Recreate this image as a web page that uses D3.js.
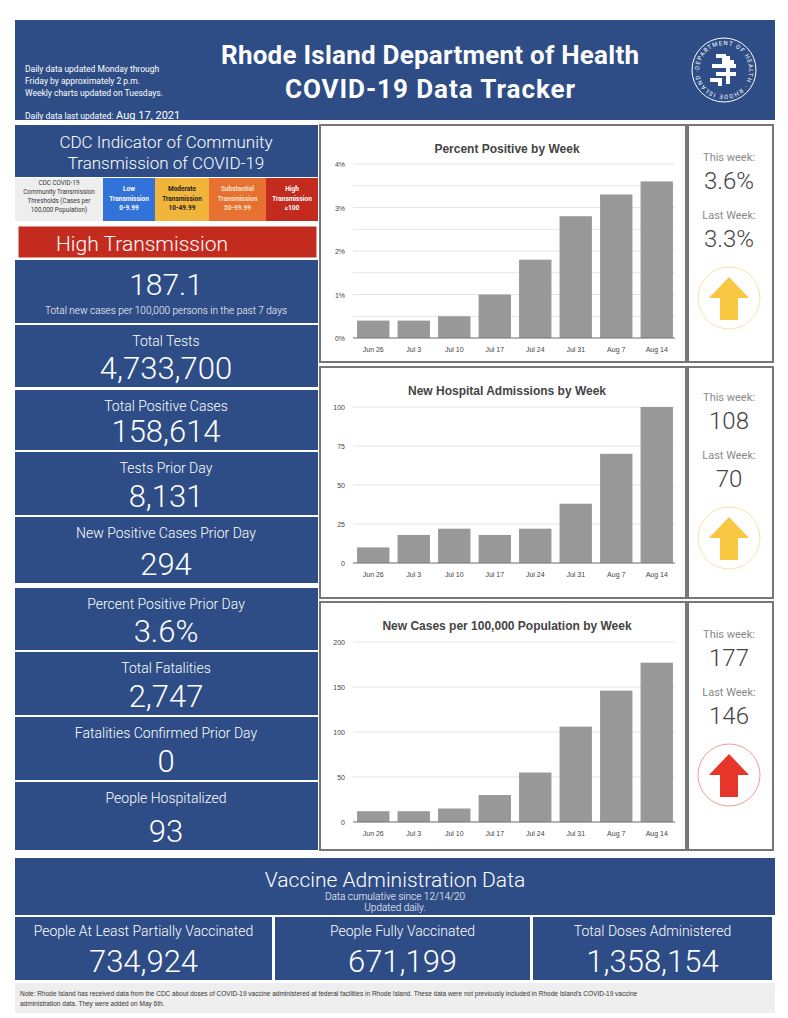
<!DOCTYPE html>
<html><head><meta charset="utf-8">
<script src="https://cdn.jsdelivr.net/npm/d3@7"></script>
<style>body{margin:0;background:#fff;font-family:Roboto,"Noto Sans",sans-serif}</style>
</head><body>
<script>
// Weekly chart data
const weeks = ["Jun 26","Jul 3","Jul 10","Jul 17","Jul 24","Jul 31","Aug 7","Aug 14"];
const pctPositive = [0.4,0.4,0.5,1.0,1.8,2.8,3.3,3.6];
const admissions = [10,18,22,18,22,38,70,108];
const casesPer100k = [12,12,15,30,55,106,146,177];

// Left column stat boxes
const statLabels = ["Total Tests","Total Positive Cases","Tests Prior Day","New Positive Cases Prior Day","Percent Positive Prior Day","Total Fatalities","Fatalities Confirmed Prior Day","People Hospitalized"];
const statValues = ["4,733,700","158,614","8,131","294","3.6%","2,747","0","93"];
const statTops = [325,390,452,517,588,652,717,782];
const statBottoms = [387,450,515,583,650,715,780,850];

const vaxLabels = ["People At Least Partially Vaccinated","People Fully Vaccinated","Total Doses Administered"];
const vaxValues = ["734,924","671,199","1,358,154"];

const blue = "#2e4d86", red = "#c42b1f";
const W = 788, H = 1018;
const svg = d3.select("body").append("svg").attr("width", W).attr("height", H);

function rect(x, y, w, h, fill, stroke) {
  return svg.append("rect").attr("x", x).attr("y", y).attr("width", w).attr("height", h)
    .attr("fill", fill).attr("stroke", stroke || "none");
}
function text(x, y, s, size, fill, anchor, weight, family) {
  return svg.append("text").attr("x", x).attr("y", y).text(s).attr("font-size", size)
    .attr("fill", fill).attr("text-anchor", anchor || "middle").attr("font-weight", weight || 300)
    .attr("font-family", family || "Roboto, sans-serif");
}

// Header
rect(15, 20, 760, 100, blue);
text(25, 72, "Daily data updated Monday through", 8.5, "#fff", "start", "normal");
text(25, 84, "Friday by approximately 2 p.m.", 8.5, "#fff", "start", "normal");
text(25, 96, "Weekly charts updated on Tuesdays.", 8.5, "#fff", "start", "normal");
text(25, 119, "Daily data last updated:", 8.5, "#fff", "start", "normal").append("tspan").attr("font-size", 11).text(" Aug 17, 2021");
text(430, 64, "Rhode Island Department of Health", 26, "#fff", "middle", "bold").attr("textLength", 418);
text(430, 98, "COVID-19 Data Tracker", 26, "#fff", "middle", "bold").attr("textLength", 290);
// logo seal
const seal = svg.append("g").attr("transform", "translate(724,70)");
seal.append("circle").attr("r", 32).attr("fill", "none").attr("stroke", "#fff").attr("stroke-width", 1);
seal.append("path").attr("d", "M-8,-14 h8 v6 h10 M-12,-4 h24 M-8,4 h20 M-14,10 h10 v6 M4,-14 v28")
  .attr("stroke", "#fff").attr("stroke-width", 4).attr("fill", "none");
seal.append("path").attr("id", "sealarc").attr("d", "M-25,0 A25,25 0 1,1 25,0 A25,25 0 1,1 -25,0").attr("fill", "none");
seal.append("text").attr("font-size", 6).attr("fill", "#fff").attr("letter-spacing", 1)
  .append("textPath").attr("href", "#sealarc").text("DEPARTMENT OF HEALTH · RHODE ISLAND ·");

// CDC indicator
rect(15, 125, 303, 52, blue);
text(166, 148, "CDC Indicator of Community", 17, "#fff");
text(166, 169, "Transmission of COVID-19", 17, "#fff");
const thrX = [15, 103, 155, 209, 266, 318];
const thrFill = ["#eeeeee", "#3372d8", "#f2b53c", "#e67131", "#c42b1f"];
const thrText = [["CDC COVID-19","Community Transmission","Thresholds (Cases per","100,000 Population)"],
  ["Low","Transmission","0-9.99"],["Moderate","Transmission","10-49.99"],["Substantial","Transmission","50-99.99"],["High","Transmission","≥100"]];
thrFill.forEach((f, i) => {
  rect(thrX[i], 178, thrX[i + 1] - thrX[i], 43, f);
  const lines = thrText[i];
  const col = i === 0 ? "#333" : i === 2 ? "#222" : i === 3 ? "#fde2c9" : "#fff";
  lines.forEach((l, j) => text((thrX[i] + thrX[i + 1]) / 2, (i === 0 ? 185 : 191) + j * (i === 0 ? 9 : 9.5), l, i === 0 ? 6.3 : 6.5, col, "middle", i === 0 ? "normal" : "bold"));
});
rect(18, 226, 299, 32, red, "#fff");
text(142, 251, "High Transmission", 21, "#fff");
rect(15, 260, 303, 63, blue);
text(166, 295, "187.1", 30, "#fff");
text(166, 314, "Total new cases per 100,000 persons in the past 7 days", 10, "#fff");

// Stat boxes
statLabels.forEach((l, i) => {
  const y0 = statTops[i], y1 = statBottoms[i];
  rect(15, y0, 303, y1 - y0, blue);
  text(166, y0 + 21, l, 14, "#fff");
  text(166, y1 - 8, statValues[i], 31, "#fff");
});

// Weekly bar charts
function barChart(cfg) {
  rect(320, cfg.top, 366, cfg.bottom - cfg.top, "#fff", "#777").attr("stroke-width", 2);
  rect(688, cfg.top, 85, cfg.bottom - cfg.top, "#fff", "#777").attr("stroke-width", 2);
  text(507, cfg.top + 28, cfg.title, 12, "#444", "middle", "bold", "Arial, Liberation Sans, sans-serif");
  const x = d3.scaleBand().domain(weeks).range([353, 677]).paddingInner(0.2).paddingOuter(0.1);
  const y = d3.scaleLinear().domain([0, cfg.max]).range([cfg.y0, cfg.y1]).clamp(true);
  const g = svg.append("g");
  g.selectAll("line.grid").data(d3.range(0, cfg.max + 1e-9, cfg.minor)).join("line")
    .attr("x1", 353).attr("x2", 675).attr("y1", d => y(d)).attr("y2", d => y(d))
    .attr("stroke", "#e4e4e4");
  g.selectAll("rect").data(cfg.values).join("rect")
    .attr("x", (d, i) => x(weeks[i])).attr("width", x.bandwidth())
    .attr("y", d => y(d)).attr("height", d => cfg.y0 - y(d)).attr("fill", "#999");
  g.append("line").attr("x1", 353).attr("x2", 675).attr("y1", cfg.y0).attr("y2", cfg.y0).attr("stroke", "#777");
  g.selectAll("text.yt").data(d3.range(0, cfg.max + 1e-9, cfg.major)).join("text")
    .attr("x", 345).attr("y", d => y(d) + 3).attr("text-anchor", "end").attr("font-size", 7)
    .attr("fill", "#444").attr("font-family", "Arial, sans-serif").text(cfg.fmt);
  g.selectAll("text.xt").data(weeks).join("text")
    .attr("x", d => x(d) + x.bandwidth() / 2).attr("y", cfg.y0 + 14).attr("text-anchor", "middle")
    .attr("font-size", 7).attr("fill", "#444").attr("font-family", "Arial, sans-serif").text(d => d);
  const n = cfg.values.length;
  text(729, cfg.top + cfg.labY, "This week:", 11, "#888", "middle", "normal");
  text(729, cfg.top + cfg.labY + 28, cfg.valFmt(cfg.values[n - 1]), 24, "#444");
  text(729, cfg.top + cfg.labY + 58, "Last Week:", 11, "#888", "middle", "normal");
  text(729, cfg.top + cfg.labY + 86, cfg.valFmt(cfg.values[n - 2]), 24, "#444");
  const cy = cfg.top + cfg.arrowY;
  svg.append("circle").attr("cx", 729).attr("cy", cy).attr("r", 31).attr("fill", "#fff").attr("stroke", cfg.arrow).attr("stroke-opacity", 0.5);
  svg.append("path").attr("transform", `translate(729,${cy})`)
    .attr("d", "M0,-21 L-20,0 L-9,0 L-9,22 L9,22 L9,0 L20,0 Z").attr("fill", cfg.arrow);
}
barChart({ top: 125, bottom: 362, title: "Percent Positive by Week", values: pctPositive, max: 4, major: 1, minor: 0.5,
  y0: 338, y1: 164, fmt: d => d + "%", valFmt: d => d.toFixed(1) + "%", labY: 36, arrowY: 173, arrow: "#f8c843" });
barChart({ top: 367, bottom: 598, title: "New Hospital Admissions by Week", values: admissions, max: 100, major: 25, minor: 25,
  y0: 563, y1: 407, fmt: d => d, valFmt: d => d, labY: 34, arrowY: 171, arrow: "#f8c843" });
barChart({ top: 602, bottom: 850, title: "New Cases per 100,000 Population by Week", values: casesPer100k, max: 200, major: 50, minor: 50,
  y0: 822, y1: 642, fmt: d => d, valFmt: d => d, labY: 36, arrowY: 173, arrow: "#e8352a" });

// Vaccine section
rect(15, 858, 760, 57, blue);
text(395, 887, "Vaccine Administration Data", 21, "#fff");
text(395, 900, "Data cumulative since 12/14/20", 10, "#fff");
text(395, 911, "Updated daily.", 10, "#fff");
const vaxX = [15, 275, 533, 775];
vaxLabels.forEach((l, i) => {
  rect(vaxX[i], 917, vaxX[i + 1] - vaxX[i] - 3, 63, blue);
  const cx = (vaxX[i] + vaxX[i + 1] - 3) / 2;
  text(cx, 936, l, 14, "#fff");
  text(cx, 972, vaxValues[i], 31, "#fff");
});
rect(15, 983, 760, 30, "#eeeeee");
text(20, 996, "Note: Rhode Island has received data from the CDC about doses of COVID-19 vaccine administered at federal facilities in Rhode Island. These data were not previously included in Rhode Island's COVID-19 vaccine", 6.5, "#333", "start", "normal", "Arial, sans-serif");
text(20, 1006, "administration data. They were added on May 6th.", 6.5, "#333", "start", "normal", "Arial, sans-serif");
</script>
</body></html>
